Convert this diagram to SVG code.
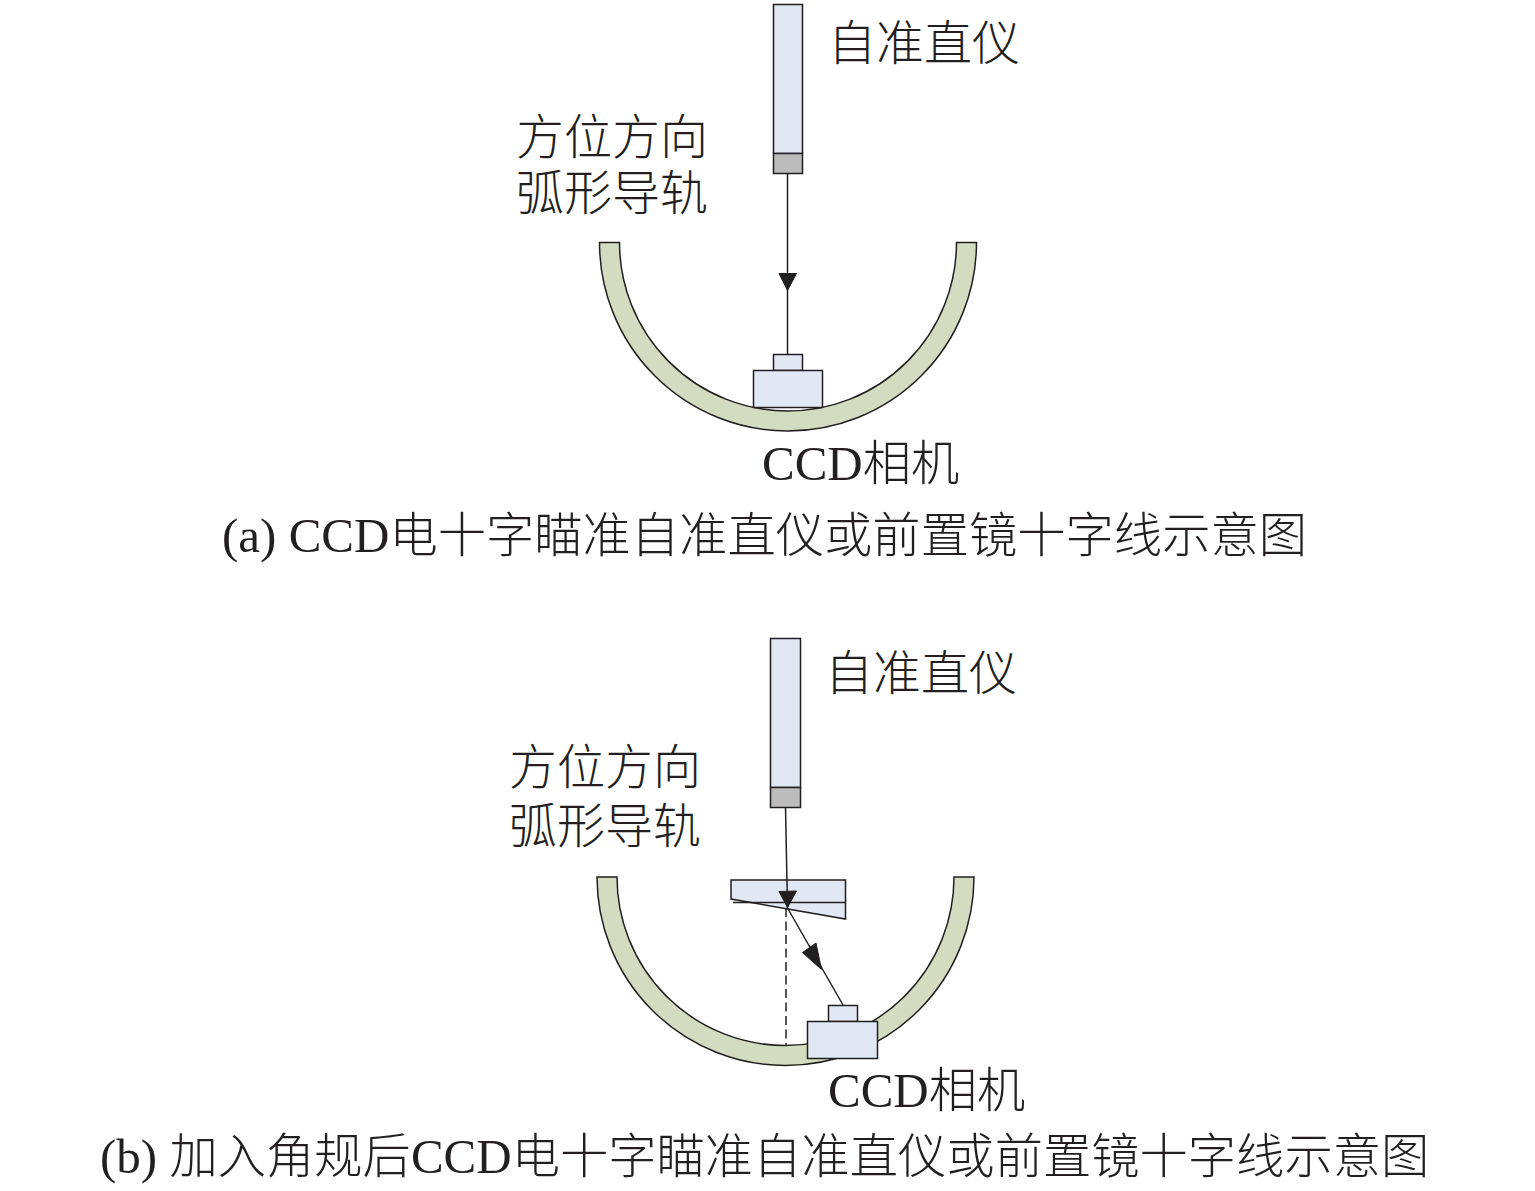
<svg xmlns="http://www.w3.org/2000/svg" width="1535" height="1191" viewBox="0 0 1535 1191">
<style>
.s{stroke:#231f20;stroke-width:1.5}
.rail{fill:#d3dcc0}
.body{fill:#e1e7f3}
.cap{fill:#bcbcbc}
.ray{fill:none;stroke:#231f20;stroke-width:1.5}
.head{fill:#231f20;stroke:#231f20;stroke-width:1}
text{font-family:"Liberation Serif","Noto Sans CJK SC",serif;fill:#231f20;font-size:49px}
.l{font-size:48px;font-family:"Noto Sans CJK SC","Liberation Serif",serif;font-weight:300}
.m{font-size:48.300px;font-family:"Noto Sans CJK SC",serif;font-weight:300}
</style>
<rect width="1535" height="1191" fill="#fff"/>
<g id="rail-a"><path class="s rail" d="M599.500 242.500H619.500A168.500 168.500 0 0 0 956.500 242.500H976.500A188.500 188.500 0 0 1 599.500 242.500Z"/></g>
<g id="rail-b"><path class="s rail" d="M597 877H617A168.500 168.500 0 0 0 954 877H974A188.500 188.500 0 0 1 597 877Z"/></g>
<g id="collimator-a"><rect class="s body" x="773.500" y="4.500" width="29" height="149"/><rect class="s cap" x="773.500" y="153.500" width="29" height="20"/></g>
<g id="camera-a"><rect class="s body" x="773.500" y="354.500" width="29" height="16"/><rect class="s body" x="753.500" y="370.500" width="69" height="37"/></g>
<g id="collimator-b"><rect class="s body" x="770.500" y="638.500" width="30" height="149"/><rect class="s cap" x="770.500" y="787.500" width="30" height="20"/></g>
<g id="prism"><path class="s body" d="M731 880H845.500V919L731 899Z"/><path class="s" fill="none" d="M733 902.500H845.500"/></g>
<g id="connectors">
<path class="ray" d="M787.500 173V354.500"/>
<polygon class="head" points="779,273.500 796.500,273.500 787.500,290.500"/>
<path class="ray" d="M785.500 807L787.500 908"/>
<path class="ray" d="M787.500 908L843 1005"/>
<path class="ray" d="M786 908V1045" stroke-dasharray="9 4.500"/>
<polygon class="head" points="779,891.500 796.500,891 787.500,907.500"/>
<polygon class="head" points="802.500,952.500 816,943 821.500,969.500"/>
</g>
<g id="camera-b"><rect class="s body" x="828.500" y="1005.500" width="29" height="16"/><rect class="s body" x="807.500" y="1021.500" width="70" height="37"/></g>
<g id="labels">
<text class="l" x="828" y="60">自准直仪</text>
<text class="l" x="516" y="154">方位方向</text>
<text class="l" x="516" y="210">弧形导轨</text>
<text x="762" y="480">CCD<tspan class="m">相机</tspan></text>
<text x="222" y="552">(a) CCD<tspan class="m">电十字瞄准自准直仪或前置镜十字线示意图</tspan></text>
<text class="l" x="825" y="690">自准直仪</text>
<text class="l" x="509" y="784">方位方向</text>
<text class="l" x="509" y="843">弧形导轨</text>
<text x="828" y="1107">CCD<tspan class="m">相机</tspan></text>
<text x="100" y="1173">(b) <tspan class="m">加入角规后</tspan>CCD<tspan class="m">电十字瞄准自准直仪或前置镜十字线示意图</tspan></text>
</g>
</svg>
